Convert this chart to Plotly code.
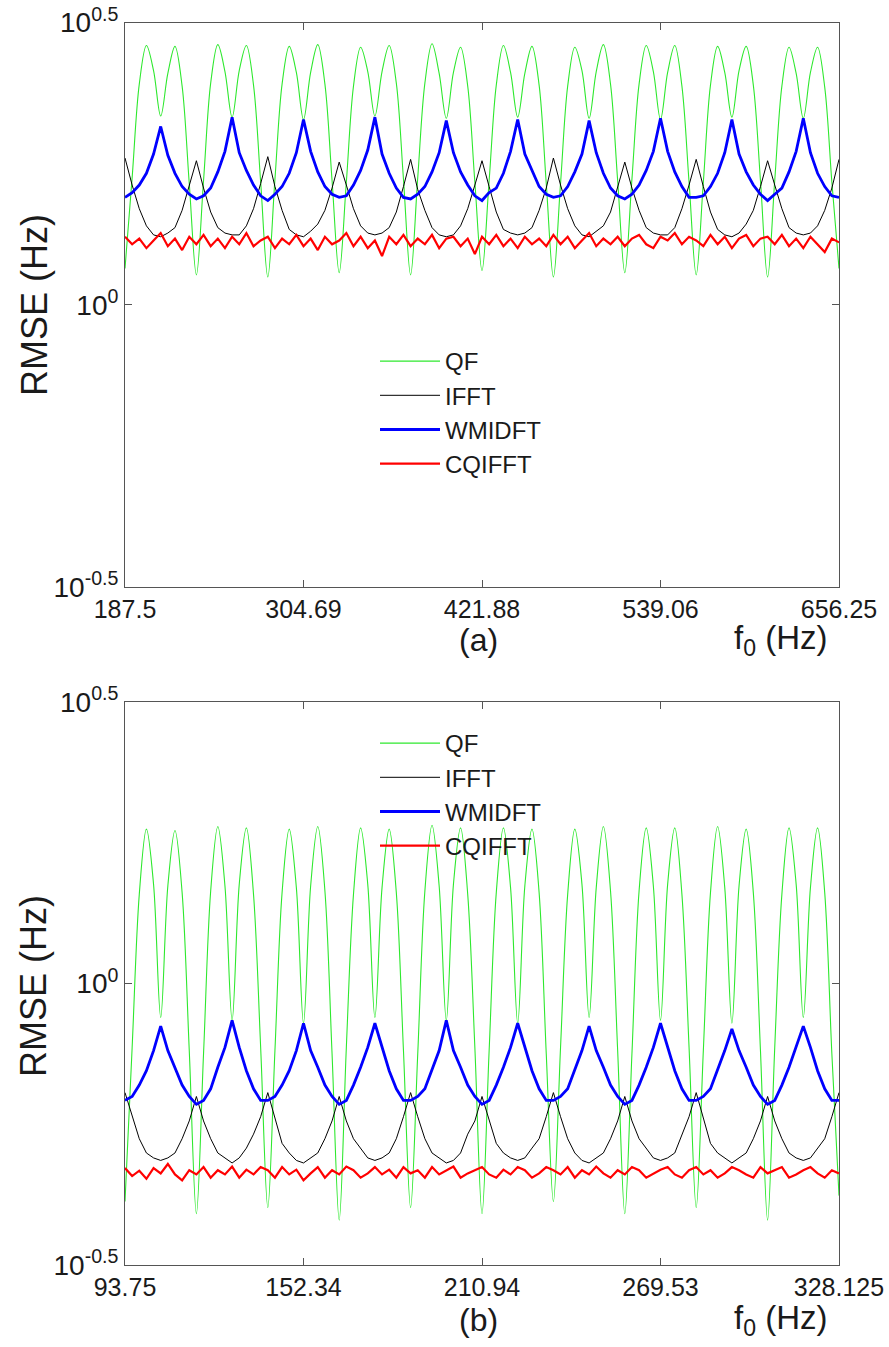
import numpy as np
import plotly.graph_objects as go

# ---------------- data ----------------
# panel (a): f0 from 187.5 to 656.25 Hz, 101 samples
freq_a = np.linspace(187.5, 656.25, 101)
xtick_a = [187.5, 304.69, 421.88, 539.06, 656.25]

qf_a = [
    1.16, 1.68, 2.46, 2.88, 2.60, 2.16, 2.57, 2.87, 2.44, 1.64,
    1.13, 1.66, 2.47, 2.89, 2.59, 2.15, 2.60, 2.88, 2.45, 1.65,
    1.12, 1.67, 2.46, 2.87, 2.58, 2.13, 2.58, 2.89, 2.46, 1.66,
    1.14, 1.65, 2.44, 2.86, 2.59, 2.16, 2.59, 2.88, 2.47, 1.67,
    1.13, 1.68, 2.47, 2.90, 2.57, 2.14, 2.58, 2.86, 2.44, 1.65,
    1.15, 1.66, 2.45, 2.88, 2.58, 2.15, 2.57, 2.87, 2.45, 1.64,
    1.12, 1.64, 2.44, 2.86, 2.60, 2.14, 2.59, 2.89, 2.46, 1.66,
    1.14, 1.67, 2.46, 2.88, 2.59, 2.13, 2.58, 2.88, 2.44, 1.65,
    1.13, 1.65, 2.45, 2.87, 2.58, 2.15, 2.60, 2.87, 2.45, 1.66,
    1.12, 1.66, 2.44, 2.86, 2.57, 2.14, 2.58, 2.86, 2.43, 1.65,
    1.16]
ifft_a = [
    1.82, 1.63, 1.48, 1.38, 1.33, 1.32, 1.34, 1.37, 1.47, 1.62,
    1.80, 1.61, 1.46, 1.37, 1.34, 1.33, 1.33, 1.38, 1.48, 1.64,
    1.83, 1.62, 1.47, 1.36, 1.33, 1.32, 1.35, 1.39, 1.47, 1.61,
    1.79, 1.63, 1.48, 1.38, 1.34, 1.33, 1.34, 1.37, 1.46, 1.62,
    1.81, 1.60, 1.47, 1.37, 1.33, 1.32, 1.33, 1.38, 1.48, 1.63,
    1.80, 1.62, 1.46, 1.36, 1.34, 1.33, 1.34, 1.37, 1.47, 1.61,
    1.82, 1.63, 1.48, 1.38, 1.33, 1.32, 1.35, 1.38, 1.46, 1.62,
    1.79, 1.61, 1.47, 1.37, 1.34, 1.33, 1.33, 1.37, 1.48, 1.63,
    1.81, 1.62, 1.46, 1.36, 1.33, 1.32, 1.34, 1.39, 1.47, 1.62,
    1.80, 1.63, 1.48, 1.37, 1.34, 1.33, 1.34, 1.38, 1.47, 1.61,
    1.81]
wmidft_a = [
    1.55, 1.58, 1.63, 1.71, 1.85, 2.07, 1.84, 1.71, 1.62, 1.57,
    1.54, 1.56, 1.61, 1.72, 1.87, 2.15, 1.86, 1.73, 1.63, 1.56,
    1.53, 1.57, 1.62, 1.71, 1.86, 2.13, 1.87, 1.72, 1.62, 1.57,
    1.55, 1.56, 1.63, 1.73, 1.88, 2.15, 1.85, 1.71, 1.61, 1.55,
    1.54, 1.57, 1.62, 1.72, 1.86, 2.12, 1.86, 1.72, 1.63, 1.56,
    1.53, 1.58, 1.61, 1.71, 1.87, 2.13, 1.85, 1.73, 1.62, 1.57,
    1.55, 1.56, 1.62, 1.72, 1.85, 2.12, 1.86, 1.71, 1.61, 1.56,
    1.54, 1.57, 1.63, 1.73, 1.87, 2.14, 1.87, 1.72, 1.62, 1.55,
    1.55, 1.56, 1.62, 1.71, 1.86, 2.13, 1.85, 1.72, 1.63, 1.57,
    1.53, 1.57, 1.61, 1.72, 1.87, 2.14, 1.86, 1.71, 1.62, 1.56,
    1.55]
cqifft_a = [
    1.32, 1.28, 1.31, 1.26, 1.30, 1.34, 1.27, 1.31, 1.25, 1.32,
    1.28, 1.33, 1.27, 1.31, 1.26, 1.32, 1.28, 1.34, 1.27, 1.30,
    1.32, 1.26, 1.31, 1.28, 1.33, 1.27, 1.31, 1.25, 1.32, 1.28,
    1.30, 1.34, 1.27, 1.32, 1.26, 1.30, 1.22, 1.32, 1.28, 1.33,
    1.27, 1.31, 1.28, 1.33, 1.26, 1.31, 1.32, 1.27, 1.31, 1.23,
    1.32, 1.28, 1.33, 1.27, 1.31, 1.26, 1.32, 1.28, 1.31, 1.27,
    1.33, 1.28, 1.32, 1.26, 1.30, 1.34, 1.27, 1.31, 1.28, 1.32,
    1.27, 1.31, 1.33, 1.28, 1.26, 1.32, 1.30, 1.34, 1.28, 1.32,
    1.30, 1.27, 1.33, 1.28, 1.32, 1.26, 1.31, 1.33, 1.27, 1.31,
    1.32, 1.28, 1.33, 1.27, 1.31, 1.26, 1.32, 1.28, 1.24, 1.31,
    1.29]

# panel (b): f0 from 93.75 to 328.125 Hz, 101 samples
freq_b = np.linspace(93.75, 328.125, 101)
xtick_b = [93.75, 152.34, 210.94, 269.53, 328.125]

qf_b = [
    0.41, 0.77, 1.44, 1.88, 1.50, 0.87, 1.49, 1.87, 1.45, 0.76,
    0.39, 0.75, 1.46, 1.90, 1.49, 0.86, 1.50, 1.89, 1.44, 0.77,
    0.40, 0.76, 1.45, 1.88, 1.48, 0.85, 1.49, 1.90, 1.46, 0.75,
    0.38, 0.77, 1.44, 1.89, 1.50, 0.87, 1.48, 1.88, 1.45, 0.76,
    0.40, 0.75, 1.46, 1.91, 1.49, 0.86, 1.50, 1.89, 1.44, 0.77,
    0.39, 0.76, 1.45, 1.89, 1.48, 0.85, 1.49, 1.88, 1.45, 0.75,
    0.41, 0.77, 1.44, 1.88, 1.50, 0.87, 1.48, 1.90, 1.46, 0.76,
    0.39, 0.75, 1.46, 1.89, 1.49, 0.86, 1.50, 1.89, 1.44, 0.77,
    0.40, 0.76, 1.45, 1.90, 1.48, 0.85, 1.49, 1.88, 1.45, 0.76,
    0.38, 0.77, 1.44, 1.89, 1.50, 0.87, 1.48, 1.89, 1.45, 0.75,
    0.42]
ifft_b = [
    0.64, 0.58, 0.53, 0.50, 0.49, 0.485, 0.49, 0.50, 0.53, 0.57,
    0.63, 0.57, 0.53, 0.50, 0.49, 0.48, 0.49, 0.51, 0.54, 0.58,
    0.64, 0.58, 0.52, 0.50, 0.485, 0.48, 0.49, 0.50, 0.53, 0.57,
    0.63, 0.57, 0.53, 0.51, 0.49, 0.485, 0.49, 0.50, 0.53, 0.58,
    0.64, 0.58, 0.53, 0.50, 0.49, 0.48, 0.485, 0.50, 0.54, 0.57,
    0.63, 0.57, 0.52, 0.50, 0.49, 0.485, 0.49, 0.51, 0.53, 0.58,
    0.64, 0.58, 0.53, 0.50, 0.485, 0.48, 0.49, 0.50, 0.53, 0.57,
    0.63, 0.57, 0.53, 0.51, 0.49, 0.485, 0.49, 0.50, 0.54, 0.58,
    0.64, 0.58, 0.52, 0.50, 0.49, 0.48, 0.49, 0.50, 0.53, 0.57,
    0.63, 0.57, 0.53, 0.50, 0.49, 0.485, 0.49, 0.51, 0.53, 0.58,
    0.64]
wmidft_b = [
    0.62, 0.63, 0.66, 0.70, 0.76, 0.84, 0.76, 0.71, 0.66, 0.63,
    0.61, 0.62, 0.65, 0.71, 0.77, 0.86, 0.77, 0.70, 0.65, 0.62,
    0.62, 0.63, 0.66, 0.70, 0.76, 0.85, 0.76, 0.71, 0.66, 0.63,
    0.61, 0.62, 0.66, 0.71, 0.77, 0.85, 0.77, 0.70, 0.65, 0.62,
    0.62, 0.63, 0.65, 0.70, 0.76, 0.86, 0.76, 0.71, 0.66, 0.63,
    0.61, 0.62, 0.66, 0.71, 0.77, 0.85, 0.77, 0.70, 0.65, 0.62,
    0.62, 0.63, 0.65, 0.70, 0.76, 0.84, 0.76, 0.71, 0.66, 0.63,
    0.61, 0.62, 0.66, 0.71, 0.77, 0.85, 0.77, 0.70, 0.65, 0.62,
    0.62, 0.63, 0.65, 0.70, 0.76, 0.83, 0.76, 0.71, 0.66, 0.63,
    0.61, 0.62, 0.66, 0.71, 0.77, 0.84, 0.77, 0.70, 0.65, 0.62,
    0.62]
cqifft_b = [
    0.47, 0.455, 0.465, 0.45, 0.47, 0.46, 0.478, 0.458, 0.447, 0.466,
    0.458, 0.472, 0.452, 0.466, 0.458, 0.473, 0.452, 0.467, 0.458, 0.472,
    0.466, 0.452, 0.472, 0.458, 0.467, 0.447, 0.46, 0.472, 0.452, 0.466,
    0.458, 0.473, 0.466, 0.452, 0.46, 0.472, 0.458, 0.467, 0.452, 0.472,
    0.46, 0.466, 0.452, 0.472, 0.458, 0.466, 0.473, 0.452, 0.46, 0.466,
    0.472, 0.458, 0.452, 0.467, 0.458, 0.472, 0.466, 0.452, 0.46, 0.472,
    0.466, 0.458, 0.472, 0.452, 0.466, 0.458, 0.473, 0.46, 0.452, 0.466,
    0.458, 0.472, 0.466, 0.452, 0.46, 0.467, 0.472, 0.458, 0.452, 0.466,
    0.472, 0.458, 0.466, 0.452, 0.46, 0.472, 0.466, 0.458, 0.452, 0.472,
    0.46, 0.466, 0.472, 0.452, 0.458, 0.466, 0.472, 0.46, 0.452, 0.466,
    0.46]

ytick_vals = [10 ** -0.5, 1.0, 10 ** 0.5]
ytick_text = ["10<sup>-0.5</sup>", "10<sup>0</sup>", "10<sup>0.5</sup>"]
names = ["QF", "IFFT", "WMIDFT", "CQIFFT"]

# ---------------- styles ----------------
FONT = "Liberation Sans, Arial, sans-serif"
TXT = "#1a1a1a"
AX = "#555555"
styles = [
    dict(color="#2ee82e", width=1.1, shape="spline"),
    dict(color="#000000", width=1.0),
    dict(color="#0000ff", width=2.8),
    dict(color="#ff0000", width=2.2),
]

fig = go.Figure()
panels = [
    (freq_a, [qf_a, ifft_a, wmidft_a, cqifft_a], "x", "y", "legend"),
    (freq_b, [qf_b, ifft_b, wmidft_b, cqifft_b], "x2", "y2", "legend2"),
]
for freq, series, xa, ya, lg in panels:
    for name, vals, st in zip(names, series, styles):
        fig.add_trace(go.Scatter(
            x=freq, y=vals, mode="lines", name=name,
            line=st, xaxis=xa, yaxis=ya, legend=lg,
        ))

W, H = 889, 1347
def dx(a, b):
    return [a / W, b / W]
def dy(top, bot):
    return [1 - bot / H, 1 - top / H]

axis_common = dict(
    showline=True, linecolor=AX, linewidth=1, mirror="ticks",
    ticks="inside", ticklen=7, tickcolor=AX, tickwidth=1,
    showgrid=False, zeroline=False, automargin=False,
)
xfont = dict(family=FONT, size=25, color=TXT)
yfont = dict(family=FONT, size=28, color=TXT)

fig.update_layout(
    width=W, height=H, margin=dict(l=0, r=0, t=0, b=0, autoexpand=False),
    paper_bgcolor="white", plot_bgcolor="white",
    font=dict(family=FONT, color=TXT),
    xaxis=dict(domain=dx(125, 839), range=[187.5, 656.25], anchor="y", tickfont=xfont,
               tickvals=xtick_a, ticktext=[str(v) for v in xtick_a], **axis_common),
    yaxis=dict(domain=dy(22.6, 587), type="log", range=[-0.5, 0.5], anchor="x",
               tickvals=ytick_vals, ticktext=ytick_text, tickfont=yfont, **axis_common),
    xaxis2=dict(domain=dx(125, 839), range=[93.75, 328.125], anchor="y2", tickfont=xfont,
                tickvals=xtick_b, ticktext=[str(v) for v in xtick_b], **axis_common),
    yaxis2=dict(domain=dy(702, 1265), type="log", range=[-0.5, 0.5], anchor="x2",
                tickvals=ytick_vals, ticktext=ytick_text, tickfont=yfont, **axis_common),
    legend=dict(x=375 / W, y=1 - 339 / H, xanchor="left", yanchor="top",
                bgcolor="rgba(0,0,0,0)", font=dict(family=FONT, size=24, color=TXT),
                tracegroupgap=0, itemwidth=60),
    legend2=dict(x=375 / W, y=1 - 721 / H, xanchor="left", yanchor="top",
                 bgcolor="rgba(0,0,0,0)", font=dict(family=FONT, size=24, color=TXT),
                 tracegroupgap=0, itemwidth=60),
    showlegend=True,
)

for ycen in [305, 986]:
    fig.add_annotation(text="RMSE (Hz)", x=34 / W, y=1 - ycen / H, xref="paper", yref="paper",
                       xanchor="center", yanchor="middle", textangle=-90, showarrow=False,
                       font=dict(family=FONT, size=36, color=TXT))

for label, ycen in [("(a)", 640), ("(b)", 1320)]:
    fig.add_annotation(text=label, x=478 / W, y=1 - ycen / H, xref="paper", yref="paper",
                       xanchor="center", yanchor="middle", showarrow=False,
                       font=dict(family=FONT, size=32, color=TXT))
    fig.add_annotation(text="f<sub>0</sub> (Hz)", x=781 / W, y=1 - ycen / H, xref="paper",
                       yref="paper", xanchor="center", yanchor="middle", showarrow=False,
                       font=dict(family=FONT, size=33, color=TXT))

fig.write_html("out.html")
